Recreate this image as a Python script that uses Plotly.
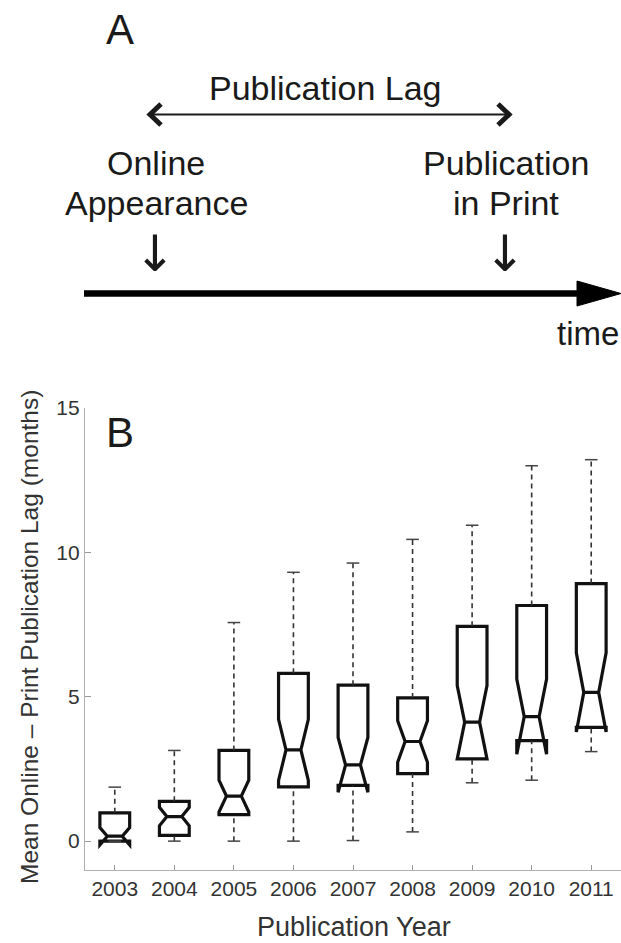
import plotly.graph_objects as go

# ---- Panel B data (months) ----
years = [2003, 2004, 2005, 2006, 2007, 2008, 2009, 2010, 2011]
lower_whisker = [0.00, 0.00, 0.00, 0.00, 0.02, 0.32, 2.02, 2.11, 3.10]
q1_vals = [0.00, 0.20, 0.92, 1.88, 1.93, 2.34, 2.85, 3.48, 3.94]
median_vals = [0.17, 0.85, 1.56, 3.16, 2.64, 3.45, 4.12, 4.31, 5.15]
q3_vals = [0.98, 1.38, 3.14, 5.81, 5.40, 4.96, 7.44, 8.16, 8.92]
upper_whisker = [1.87, 3.14, 7.57, 9.31, 9.63, 10.45, 10.94, 13.00, 13.21]
notch_span = [0.30, 0.32, 0.55, 1.06, 0.95, 0.72, 1.27, 1.30, 1.37]
y_ticks = [0, 5, 10, 15]

W, H = 621, 943
FONT = "Liberation Sans, Arial, Helvetica, sans-serif"
INK = "#1a1a1a"


def px(x):
    return x / W


def py(y):
    return 1 - y / H


fig = go.Figure()

# dashed whiskers
wx, wy = [], []
for x, lo, a, b, hi in zip(years, lower_whisker, q1_vals, q3_vals, upper_whisker):
    wx += [x, x, None, x, x, None]
    wy += [lo, a, None, b, hi, None]
fig.add_trace(go.Scatter(x=wx, y=wy, mode="lines",
                         line=dict(color="#333333", width=1.6, dash="5px,4px"),
                         hoverinfo="skip", showlegend=False))
# whisker caps
fig.add_trace(go.Scatter(x=years + years, y=upper_whisker + lower_whisker, mode="markers",
                         marker=dict(symbol="line-ew", size=9,
                                     line=dict(color="#444444", width=1.5)),
                         hoverinfo="skip", showlegend=False))

fig.add_trace(go.Box(
    x=years, q1=q1_vals, median=median_vals, q3=q3_vals,
    lowerfence=lower_whisker, upperfence=upper_whisker,
    notchspan=notch_span, notched=True, notchwidth=0.25,
    showwhiskers=False, whiskerwidth=0, boxpoints=False,
    width=0.5, line=dict(color="#111111", width=3.2),
    fillcolor="rgba(255,255,255,0)", showlegend=False,
))

fig.update_layout(
    width=W, height=H,
    margin=dict(l=0, r=0, t=0, b=0),
    paper_bgcolor="white", plot_bgcolor="white",
    font=dict(family=FONT, color="#333333"),
    xaxis=dict(domain=[px(85), 1], range=[2002.5, 2011.5],
               tickvals=years, ticktext=[str(y) for y in years],
               ticks="inside", ticklen=5, tickcolor="#999999", tickwidth=1,
               showline=True, linecolor="#b0b0b0", linewidth=1.2,
               showgrid=False, zeroline=False,
               tickfont=dict(size=21, color="#333333"), automargin=False),
    yaxis=dict(domain=[py(870), py(408)], range=[-1, 15],
               tickvals=y_ticks, ticktext=[str(v) for v in y_ticks],
               ticks="inside", ticklen=6, tickcolor="#999999", tickwidth=1,
               showline=True, linecolor="#b0b0b0", linewidth=1.2,
               showgrid=False, zeroline=False,
               tickfont=dict(size=21, color="#333333"), automargin=False),
)

ann = []


def text(x, y, s, size, xanchor="center", angle=0, color=INK, family=FONT):
    ann.append(dict(x=px(x), y=py(y), xref="paper", yref="paper", text=s,
                    showarrow=False, xanchor=xanchor, yanchor="middle",
                    textangle=angle, font=dict(size=size, color=color, family=family)))


# Panel A texts
text(120, 29, "A", 42)
text(325, 88, "Publication Lag", 34)
text(156, 163, "Online", 34)
text(156, 203, "Appearance", 34)
text(506, 163, "Publication", 34)
text(506, 203, "in Print", 34)
text(155, 254, "↓", 50, family="DejaVu Sans")
text(505, 254, "↓", 50, family="DejaVu Sans")
text(621, 333, "time", 33, xanchor="right")

# Panel B texts
text(120, 432, "B", 42)
text(354, 927, "Publication Year", 27, color="#333333")
text(29, 637, "Mean Online \u2013 Print Publication Lag (months)", 24.5,
     angle=-90, color="#333333")

fig.update_layout(annotations=ann)

shapes = []
# timeline arrow
shapes.append(dict(type="line", xref="paper", yref="paper",
                   x0=px(84), x1=px(585), y0=py(293.5), y1=py(293.5),
                   line=dict(color="black", width=6.5)))
shapes.append(dict(type="path", xref="paper", yref="paper",
                   path=f"M {px(577)} {py(281)} L {px(621)} {py(293.5)} L {px(577)} {py(306)} Z",
                   fillcolor="black", line=dict(color="black", width=1)))
# publication lag double arrow
shapes.append(dict(type="line", xref="paper", yref="paper",
                   x0=px(150), x1=px(509), y0=py(114.5), y1=py(114.5),
                   line=dict(color=INK, width=2)))
shapes.append(dict(type="path", xref="paper", yref="paper",
                   path=f"M {px(161)} {py(104)} L {px(150)} {py(114.5)} L {px(161)} {py(125)}",
                   line=dict(color=INK, width=5)))
shapes.append(dict(type="path", xref="paper", yref="paper",
                   path=f"M {px(498)} {py(104)} L {px(509)} {py(114.5)} L {px(498)} {py(125)}",
                   line=dict(color=INK, width=5)))
fig.update_layout(shapes=shapes)

fig.write_html("out.html", config={"displayModeBar": False},
               post_script="document.body.style.margin='0';document.body.style.overflow='hidden';")
